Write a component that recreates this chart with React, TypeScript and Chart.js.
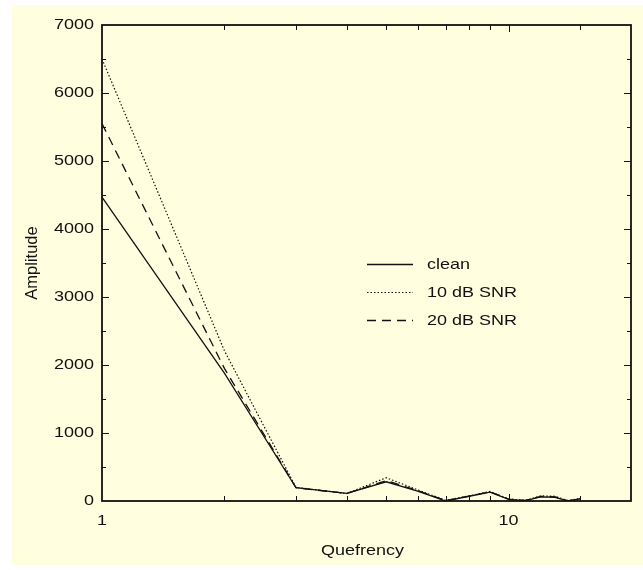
import React, { useEffect, useRef } from "react";
import { Chart, registerables } from "chart.js";

Chart.register(...registerables);

// ---- data ----
const quefrency = [1, 2, 3, 4, 5, 6, 7, 8, 9, 10, 11, 12, 13, 14, 15];
const cleanValues = [4470, 1880, 195, 113, 283, 140, 0, 70, 130, 25, 5, 60, 55, 0, 30];
const snr10Values = [6500, 2210, 200, 110, 342, 160, 10, 75, 140, 30, 10, 75, 70, 5, 40];
const snr20Values = [5550, 1950, 195, 110, 300, 150, 5, 72, 135, 28, 8, 68, 62, 3, 35];
const seriesLabels = ["clean", "10 dB SNR", "20 dB SNR"];
const xTickLabels = [1, 10];
const xAxisTitle = "Quefrency";
const yAxisTitle = "Amplitude";

const W = 631;
const H = 560;
const FONT = "'Liberation Sans', Arial, Helvetica, sans-serif";
const FONT_SIZE = 15;
const XSTRETCH = 1.2;
const INK = "#111111";
const BG = "#ffffe0";

function stretchedText(ctx: any, text: string, x: number, y: number, align: string) {
  ctx.save();
  ctx.translate(x, y);
  ctx.scale(XSTRETCH, 1);
  ctx.textAlign = align;
  ctx.fillText(text, 0, 0);
  ctx.restore();
}

const framePlugin = {
  id: "frameTicksLegend",
  afterDatasetsDraw(chart: any) {
    const { ctx, chartArea, scales } = chart;
    const { left, right, top, bottom } = chartArea;
    const x = scales.x;
    const y = scales.y;
    ctx.save();
    // frame
    ctx.strokeStyle = INK;
    ctx.lineWidth = 1.8;
    ctx.setLineDash([]);
    ctx.strokeRect(left, top, right - left, bottom - top);

    // x ticks (log) from the scale's own ticks
    ctx.lineWidth = 1;
    x.ticks.forEach((t: any) => {
      const v = t.value;
      const px = Math.round(x.getPixelForValue(v)) + 0.5;
      if (px <= left + 1 || px >= right - 1) return;
      const len = xTickLabels.includes(v) ? 7 : 5;
      ctx.beginPath();
      ctx.moveTo(px, bottom);
      ctx.lineTo(px, bottom - len);
      ctx.moveTo(px, top);
      ctx.lineTo(px, top + len);
      ctx.stroke();
    });
    // y ticks: major at labelled ticks, minor halfway
    const yt = y.ticks.map((t: any) => t.value);
    const yAll: number[] = [];
    yt.forEach((v: number, i: number) => {
      yAll.push(v);
      if (i < yt.length - 1) yAll.push((v + yt[i + 1]) / 2);
    });
    yAll.forEach((v) => {
      const py = Math.round(y.getPixelForValue(v)) + 0.5;
      if (py <= top + 1 || py >= bottom - 1) return;
      const len = yt.includes(v) ? 7 : 4;
      ctx.beginPath();
      ctx.moveTo(left, py);
      ctx.lineTo(left + len, py);
      ctx.moveTo(right, py);
      ctx.lineTo(right - len, py);
      ctx.stroke();
    });

    ctx.font = `${FONT_SIZE}px ${FONT}`;
    ctx.fillStyle = INK;
    ctx.textBaseline = "middle";

    // tick labels
    yt.forEach((v: number) => {
      const py = y.getPixelForValue(v);
      stretchedText(ctx, String(v), left - 8, py, "right");
    });
    x.ticks.forEach((t: any) => {
      if (!xTickLabels.includes(t.value)) return;
      const px = x.getPixelForValue(t.value);
      stretchedText(ctx, String(t.value), px, bottom + 20, "center");
    });

    // legend
    const lx0 = 355;
    const lx1 = 401;
    const tx = 415;
    const ly0 = 258.5;
    const dy = 28.3;
    chart.data.datasets.forEach((ds: any, i: number) => {
      const yy = Math.round(ly0 + i * dy) + 0.5;
      ctx.strokeStyle = INK;
      ctx.lineWidth = ds.borderWidth;
      ctx.setLineDash(ds.borderDash || []);
      ctx.beginPath();
      ctx.moveTo(lx0, yy);
      ctx.lineTo(lx1, yy);
      ctx.stroke();
      ctx.setLineDash([]);
      stretchedText(ctx, ds.label, tx, yy, "left");
    });

    // axis titles
    stretchedText(ctx, xAxisTitle, (left + right) / 2 - 4, 546, "center");
    ctx.translate(20, (top + bottom) / 2);
    ctx.rotate(-Math.PI / 2);
    ctx.textAlign = "center";
    ctx.font = `16.5px ${FONT}`;
    ctx.fillText(yAxisTitle, 0, 0);
    ctx.restore();
  },
};

function toPoints(vals: number[]) {
  return quefrency.map((q, i) => ({ x: q, y: vals[i] }));
}

export default function App() {
  const ref = useRef<HTMLCanvasElement | null>(null);
  useEffect(() => {
    if (!ref.current) return;
    const chart = new Chart(ref.current, {
      type: "line",
      data: {
        datasets: [
          {
            label: seriesLabels[0],
            data: toPoints(cleanValues),
            borderColor: INK,
            borderWidth: 1.3,
            pointRadius: 0,
            tension: 0,
          },
          {
            label: seriesLabels[1],
            data: toPoints(snr10Values),
            borderColor: INK,
            borderWidth: 1.2,
            borderDash: [1.5, 2],
            pointRadius: 0,
            tension: 0,
          },
          {
            label: seriesLabels[2],
            data: toPoints(snr20Values),
            borderColor: INK,
            borderWidth: 1.3,
            borderDash: [9, 6],
            pointRadius: 0,
            tension: 0,
          },
        ],
      },
      options: {
        animation: false,
        responsive: false,
        layout: { padding: { top: 20, right: 12, bottom: 0, left: 0 } },
        plugins: { legend: { display: false }, tooltip: { enabled: false } },
        scales: {
          x: {
            type: "logarithmic",
            min: 1,
            max: 20,
            grid: { display: false },
            border: { display: false },
            afterFit: (s: any) => {
              s.height = 64;
            },
            ticks: { display: false, autoSkip: false },
          },
          y: {
            type: "linear",
            min: 0,
            max: 7000,
            grid: { display: false },
            border: { display: false },
            afterFit: (s: any) => {
              s.width = 90;
            },
            ticks: { display: false, stepSize: 1000 },
          },
        },
      },
      plugins: [framePlugin],
    });
    return () => chart.destroy();
  }, []);

  return (
    <div
      style={{
        position: "absolute",
        left: 12,
        top: 5,
        width: W,
        height: H,
        background: BG,
      }}
    >
      <canvas ref={ref} width={W} height={H} style={{ display: "block" }} />
    </div>
  );
}
